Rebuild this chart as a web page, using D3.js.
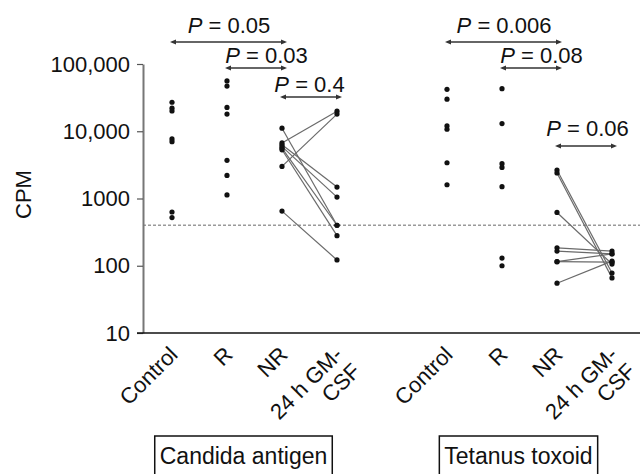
<!DOCTYPE html>
<html>
<head>
<meta charset="UTF-8">
<title>CPM by group</title>
<script src="https://d3js.org/d3.v7.min.js"></script>
<style>
  body { margin: 0; background: #fff; }
  text { font-family: "Liberation Sans", Arial, Helvetica, sans-serif; fill: #111; }
</style>
</head>
<body>
<div id="chart"></div>
<script>
// x slots: 0-3 Candida, 4 is the gap, 5-8 Tetanus
const categories = ["Control", "R", "NR", "24 h GM-|CSF", "", "Control", "R", "NR", "24 h GM-|CSF"];
const panels = ["Candida antigen", "Tetanus toxoid"];

const yTicks = [10, 100, 1000, 10000, 100000];
const yTickLabels = ["10", "100", "1000", "10,000", "100,000"];
const cutoff = 400;

// Candida antigen
const candidaControl = [27000, 22000, 20000, 7700, 7000, 630, 520];
const candidaR = [56000, 47000, 22600, 18000, 3700, 2200, 1130];
const candidaNR = [11100, 6700, 3000, 6300, 5900, 5600, 5300, 650];
const candidaGM = [400, 19900, 18000, 1480, 1050, 400, 280, 122];

// Tetanus toxoid
const tetanusControl = [42000, 30000, 12000, 10700, 3400, 1600];
const tetanusR = [43000, 13000, 3300, 2900, 1500, 130, 100];
const tetanusNR = [2650, 2400, 620, 185, 165, 115, 115, 55];
const tetanusGM = [78, 66, 106, 165, 150, 150, 113, 117];

// P values: comparison from slot -> to slot
const comparisons = [
  {from: 0, to: 2, p: "0.05", level: 0},
  {from: 1, to: 2, p: "0.03", level: 1},
  {from: 2, to: 3, p: "0.4", level: 2},
  {from: 5, to: 7, p: "0.006", level: 0},
  {from: 6, to: 7, p: "0.08", level: 1},
  {from: 7, to: 8, p: "0.06", level: 3}
];

const groups = [
  {slot: 0, values: candidaControl},
  {slot: 1, values: candidaR},
  {slot: 2, values: candidaNR},
  {slot: 3, values: candidaGM},
  {slot: 5, values: tetanusControl},
  {slot: 6, values: tetanusR},
  {slot: 7, values: tetanusNR},
  {slot: 8, values: tetanusGM}
];
const pairs = [
  {a: 2, b: 3, va: candidaNR, vb: candidaGM},
  {a: 7, b: 8, va: tetanusNR, vb: tetanusGM}
];

const width = 640, height = 474;
const fontSize = 22;

const svg = d3.select("#chart").append("svg")
  .attr("width", width)
  .attr("height", height);

const x = d3.scaleLinear().domain([0, 8]).range([172, 612]);
const y = d3.scaleLog().domain([10, 100000]).range([333, 64]);
const axisX = 143;

// cutoff line
svg.append("line")
  .attr("x1", axisX).attr("x2", width)
  .attr("y1", y(cutoff)).attr("y2", y(cutoff))
  .attr("stroke", "#9a9a9a")
  .attr("stroke-width", 1.5)
  .attr("stroke-dasharray", "3,2");

// y axis
const yAxis = svg.append("g")
  .attr("transform", `translate(${axisX},0)`)
  .call(d3.axisLeft(y).tickValues(yTicks).tickFormat((d, i) => yTickLabels[i])
    .tickSize(6).tickSizeOuter(0).tickPadding(7));
yAxis.select(".domain").attr("stroke", "#777").attr("stroke-width", 2);
yAxis.selectAll(".tick line").attr("stroke", "#555").attr("stroke-width", 1.2);
yAxis.selectAll(".tick text")
  .style("font-size", fontSize + "px")
  .attr("font-family", null)
  .attr("fill", "#111");

svg.append("text")
  .attr("transform", `translate(31,${y(1000) - 4}) rotate(-90)`)
  .attr("text-anchor", "middle")
  .style("font-size", fontSize + "px")
  .text("CPM");

// x axis baseline
svg.append("line")
  .attr("x1", axisX - 6).attr("x2", width)
  .attr("y1", y(10)).attr("y2", y(10))
  .attr("stroke", "#111")
  .attr("stroke-width", 1.5);

// category labels
categories.forEach((c, i) => {
  if (!c) return;
  const t = svg.append("text")
    .attr("transform", `translate(${x(i) + 7},356) rotate(-45)`)
    .attr("text-anchor", "end")
    .style("font-size", fontSize + "px");
  c.split("|").forEach((part, j) => {
    t.append("tspan").attr("x", j ? 1 : 0).attr("dy", j ? "1.1em" : 0).text(part);
  });
});

// paired lines NR -> 24 h GM-CSF
pairs.forEach(p => {
  svg.append("g").selectAll("line")
    .data(d3.range(p.va.length))
    .join("line")
    .attr("x1", x(p.a)).attr("y1", i => y(p.va[i]))
    .attr("x2", x(p.b)).attr("y2", i => y(p.vb[i]))
    .attr("stroke", "#6a6a6a")
    .attr("stroke-width", 1.2);
});

// dots
groups.forEach(g => {
  svg.append("g").selectAll("circle")
    .data(g.values)
    .join("circle")
    .attr("cx", x(g.slot))
    .attr("cy", d => y(d))
    .attr("r", 2.6)
    .attr("fill", "#111");
});

// comparison arrows
const defs = svg.append("defs");
["start", "end"].forEach(k => {
  defs.append("marker")
    .attr("id", "arrow-" + k)
    .attr("viewBox", "0 0 10 10")
    .attr("refX", 5).attr("refY", 5)
    .attr("markerWidth", 6).attr("markerHeight", 6)
    .attr("markerUnits", "userSpaceOnUse")
    .attr("orient", k === "start" ? "auto-start-reverse" : "auto")
    .append("path")
    .attr("d", "M0,1 L10,5 L0,9 Z")
    .attr("fill", "#333");
});

const arrowY = [42, 68, 97, 146];
const labelDx = [2, 12, 0, 3];
const labelDy = [-9.5, -5.5, -5, -9.7];

comparisons.forEach(c => {
  const ay = arrowY[c.level];
  svg.append("line")
    .attr("x1", x(c.from) + 1).attr("x2", x(c.to) + 2)
    .attr("y1", ay).attr("y2", ay)
    .attr("stroke", "#333")
    .attr("stroke-width", 1.5)
    .attr("marker-start", "url(#arrow-start)")
    .attr("marker-end", "url(#arrow-end)");
  const t = svg.append("text")
    .attr("x", (x(c.from) + x(c.to)) / 2 + labelDx[c.level])
    .attr("y", ay + labelDy[c.level])
    .attr("text-anchor", "middle")
    .style("font-size", fontSize + "px");
  t.append("tspan").attr("font-style", "italic").text("P");
  t.append("tspan").text(" = " + c.p);
});

// panel boxes
panels.forEach((name, i) => {
  const cx = (x(i * 5) + x(i * 5 + 3)) / 2 - 11;
  const box = svg.append("g");
  const t = box.append("text")
    .attr("x", cx).attr("y", 464)
    .attr("text-anchor", "middle")
    .style("font-size", (fontSize + 1) + "px")
    .text(name);
  const bb = t.node().getBBox();
  box.append("rect")
    .attr("x", bb.x - 5).attr("y", 436)
    .attr("width", bb.width + 10).attr("height", 60)
    .attr("fill", "none")
    .attr("stroke", "#111")
    .attr("stroke-width", 1.5);
});
</script>
</body>
</html>
